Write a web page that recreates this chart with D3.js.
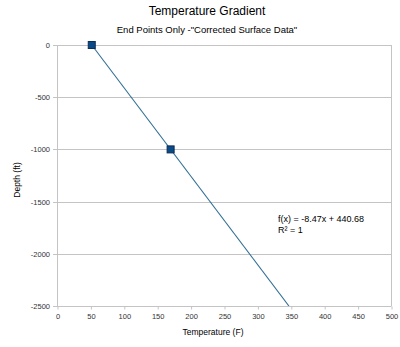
<!DOCTYPE html>
<html>
<head>
<meta charset="utf-8">
<script src="https://cdn.jsdelivr.net/npm/d3@7"></script>
<style>
  html, body { margin: 0; padding: 0; background: #fff; }
  svg { display: block; font-family: "Liberation Sans", Arial, sans-serif; }
</style>
</head>
<body>
<svg id="chart" width="400" height="347"></svg>
<script>
// Measured temperatures (F) at depth (ft)
const temperatures = [52.03, 170.09];
const depths = [0, -1000];

// Linear regression shown on the chart
const slope = -8.47;
const intercept = 440.68;
const rSquared = 1;

const xTicks = [0, 50, 100, 150, 200, 250, 300, 350, 400, 450, 500];
const yTicks = [0, -500, -1000, -1500, -2000, -2500];

const svg = d3.select("#chart");
const plot = { left: 57, right: 391, top: 45, bottom: 306 };

const x = d3.scaleLinear().domain([0, 500]).range([plot.left, plot.right]);
const y = d3.scaleLinear().domain([-2500, 0]).range([plot.bottom, plot.top]);

// Titles
svg.append("text").attr("x", 207).attr("y", 15).attr("text-anchor", "middle")
  .attr("font-size", 12).attr("fill", "#000").text("Temperature Gradient");
svg.append("text").attr("x", 207).attr("y", 33).attr("text-anchor", "middle")
  .attr("font-size", 9.5).attr("fill", "#000").text("End Points Only -\"Corrected Surface Data\"");

// Horizontal gridlines
svg.append("g").selectAll("line").data(yTicks).join("line")
  .attr("x1", plot.left - 4).attr("x2", plot.right)
  .attr("y1", d => Math.round(y(d)) + 0.5).attr("y2", d => Math.round(y(d)) + 0.5)
  .attr("stroke", "#c4c4c4").attr("stroke-width", 1);

// Left and right frame
svg.append("line").attr("x1", plot.left + 0.5).attr("x2", plot.left + 0.5)
  .attr("y1", plot.top).attr("y2", plot.bottom + 0.5).attr("stroke", "#c4c4c4");
svg.append("line").attr("x1", plot.right + 0.5).attr("x2", plot.right + 0.5)
  .attr("y1", plot.top).attr("y2", plot.bottom + 0.5).attr("stroke", "#c4c4c4");

const plain = d => String(d).replace("\u2212", "-");

// X axis ticks
const xAxis = d3.axisBottom(x).tickValues(xTicks).tickSize(3).tickPadding(4).tickFormat(plain);
const gx = svg.append("g").attr("transform", `translate(0.5,${Math.round(plot.bottom) + 0.5})`).call(xAxis);
gx.select(".domain").remove();
gx.selectAll(".tick line").attr("stroke", "#c4c4c4");
gx.selectAll(".tick text").attr("font-size", 7.5).attr("fill", "#333")
  .attr("font-family", "\"Liberation Sans\", Arial, sans-serif");

// Y axis labels
const yAxis = d3.axisLeft(y).tickValues(yTicks).tickSize(0).tickPadding(7).tickFormat(plain);
const gy = svg.append("g").attr("transform", `translate(${plot.left},0)`).call(yAxis);
gy.select(".domain").remove();
gy.selectAll(".tick line").remove();
gy.selectAll(".tick text").attr("font-size", 7.5).attr("fill", "#333")
  .attr("font-family", "\"Liberation Sans\", Arial, sans-serif");

// Axis titles
svg.append("text").attr("x", 213).attr("y", 335).attr("text-anchor", "middle")
  .attr("font-size", 8.5).attr("fill", "#000").text("Temperature (F)");
svg.append("text").attr("transform", "translate(20,180) rotate(-90)").attr("text-anchor", "middle")
  .attr("font-size", 8.5).attr("fill", "#000").text("Depth (ft)");

// Trend line from first point down to the bottom of the plot
svg.append("clipPath").attr("id", "plotClip").append("rect")
  .attr("x", plot.left).attr("y", plot.top - 5)
  .attr("width", plot.right - plot.left).attr("height", plot.bottom - plot.top + 5);
const xEnd = (-2500 - intercept) / slope;
const trend = [[temperatures[0], slope * temperatures[0] + intercept], [xEnd, -2500]];
svg.append("path")
  .attr("clip-path", "url(#plotClip)")
  .attr("d", d3.line().x(d => x(d[0])).y(d => y(d[1]))(trend))
  .attr("fill", "none").attr("stroke", "#2f6f96").attr("stroke-width", 1.1);

// Data markers
svg.append("g").selectAll("rect").data(temperatures.map((t, i) => [t, depths[i]])).join("rect")
  .attr("x", d => x(d[0]) - 3.5).attr("y", d => y(d[1]) - 3.5)
  .attr("width", 7).attr("height", 7)
  .attr("fill", "#0a4a86").attr("stroke", "#0b2e55").attr("stroke-width", 1);

// Regression equation
const eq = svg.append("text").attr("font-size", 9).attr("fill", "#000");
eq.append("tspan").attr("x", 278).attr("y", 222)
  .text(`f(x) = ${slope.toFixed(2)}x + ${intercept.toFixed(2)}`);
eq.append("tspan").attr("x", 278).attr("y", 233).text(`R² = ${rSquared}`);
</script>
</body>
</html>
